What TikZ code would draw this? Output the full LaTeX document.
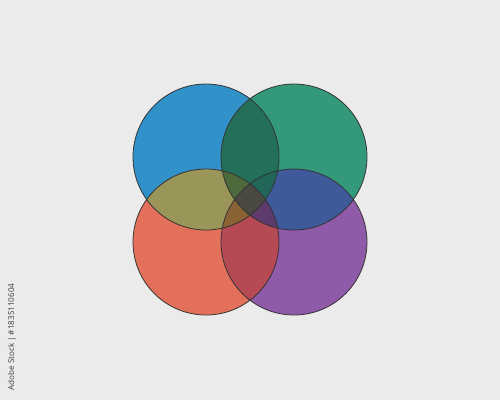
\documentclass[tikz,border=0pt]{standalone}
\usepackage{fontspec}
\setsansfont{Open Sans}
\definecolor{bgcol}{HTML}{EBEBEB}
\definecolor{cblue}{HTML}{3191C9}
\definecolor{cgreen}{HTML}{34997A}
\definecolor{corange}{HTML}{E3705A}
\definecolor{cpurple}{HTML}{8F5AA8}
\definecolor{cbg}{HTML}{246F5A}
\definecolor{cbo}{HTML}{9A9559}
\definecolor{cgp}{HTML}{3F5A9A}
\definecolor{cop}{HTML}{B54A55}
\definecolor{cbgo}{HTML}{4E6A3C}
\definecolor{cbgp}{HTML}{22665A}
\definecolor{cbop}{HTML}{8A6234}
\definecolor{cgop}{HTML}{5E3B6C}
\definecolor{call}{HTML}{4A4A42}
\def\rad{1.46cm}
\begin{document}
\begin{tikzpicture}[x=0.02cm, y=-0.02cm, ring/.style={draw=black!80, line width=0.45pt}]
\fill[bgcol] (0,0) rectangle (500,400);
\coordinate (b) at (206,157);
\coordinate (g) at (294,157);
\coordinate (o) at (206,242);
\coordinate (p) at (294,242);
% single discs
\fill[cblue] (b) circle (\rad);
\fill[cgreen] (g) circle (\rad);
\fill[corange] (o) circle (\rad);
\fill[cpurple] (p) circle (\rad);
% pairs
\begin{scope}\clip (b) circle (\rad); \fill[cbg] (g) circle (\rad); \end{scope}
\begin{scope}\clip (b) circle (\rad); \fill[cbo] (o) circle (\rad); \end{scope}
\begin{scope}\clip (g) circle (\rad); \fill[cgp] (p) circle (\rad); \end{scope}
\begin{scope}\clip (o) circle (\rad); \fill[cop] (p) circle (\rad); \end{scope}
% triples
\begin{scope}\clip (b) circle (\rad); \clip (g) circle (\rad); \fill[cbgo] (o) circle (\rad); \end{scope}
\begin{scope}\clip (b) circle (\rad); \clip (g) circle (\rad); \fill[cbgp] (p) circle (\rad); \end{scope}
\begin{scope}\clip (b) circle (\rad); \clip (o) circle (\rad); \fill[cbop] (p) circle (\rad); \end{scope}
\begin{scope}\clip (g) circle (\rad); \clip (o) circle (\rad); \fill[cgop] (p) circle (\rad); \end{scope}
% all four
\begin{scope}\clip (b) circle (\rad); \clip (g) circle (\rad); \clip (o) circle (\rad); \fill[call] (p) circle (\rad); \end{scope}
% outlines
\foreach \c in {b,g,o,p}
  \draw[ring] (\c) circle (\rad);
\node[rotate=90, font=\sffamily\fontsize{4.6}{5}\selectfont, text=black!75, inner sep=0pt] (tag) at (12,337) {Adobe Stock | \#1835110604};
\end{tikzpicture}
\end{document}
